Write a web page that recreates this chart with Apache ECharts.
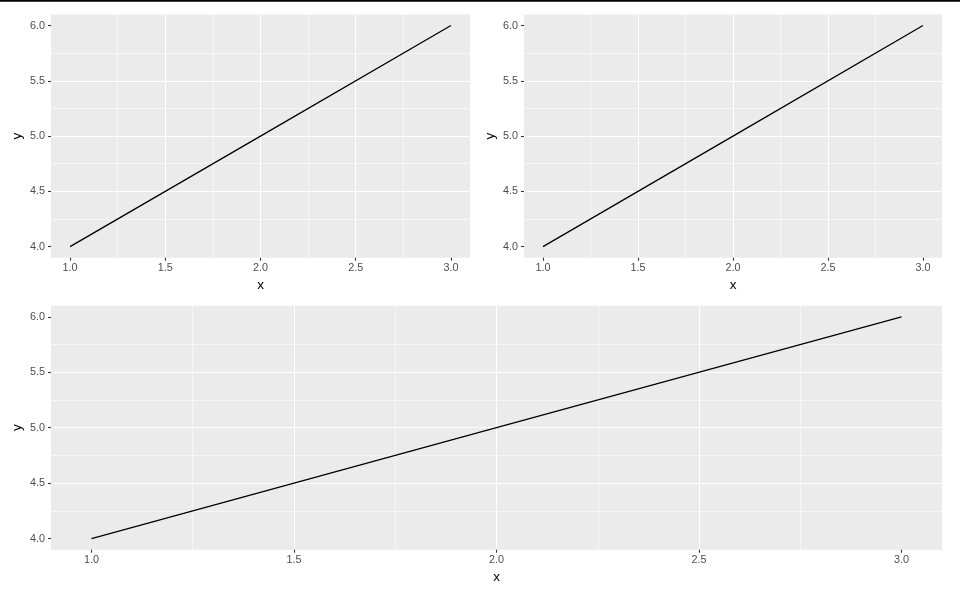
<!DOCTYPE html>
<html>
<head>
<meta charset="utf-8">
<script src="https://cdn.jsdelivr.net/npm/echarts@6/dist/echarts.min.js"></script>
<style>html,body{margin:0;padding:0;background:#fff}#c{width:960px;height:598px}</style>
</head>
<body>
<div id="c"></div>
<script>
const xValues = [1, 2, 3];
const yValues = [4, 5, 6];
const xTicks = [1.0, 1.5, 2.0, 2.5, 3.0];
const yTicks = [4.0, 4.5, 5.0, 5.5, 6.0];

const chart = echarts.init(document.getElementById('c'), null, {renderer: 'canvas'});
const FONT = 'Liberation Sans, Arial, sans-serif';
const grids = [
  {left: 51, top: 14.5, width: 419, height: 243.2},
  {left: 524, top: 14.5, width: 418, height: 243.2},
  {left: 51, top: 305.7, width: 891, height: 244}
];
function axisCommon(ticks, min, max) {
  return {
    type: 'value', min: min, max: max,
    axisLine: {show: false},
    axisTick: {show: true, length: 3, lineStyle: {color: '#333333', width: 1.1}, customValues: ticks},
    axisLabel: {color: '#4D4D4D', fontSize: 10.8, fontFamily: FONT, customValues: ticks,
      formatter: v => Number(v).toFixed(1)},
    splitLine: {show: true, lineStyle: {color: '#FFFFFF', width: 1.1}, showMinLine: false, showMaxLine: false},
    minorTick: {show: false, splitNumber: 2},
    minorSplitLine: {show: true, lineStyle: {color: '#FFFFFF', width: 0.55}},
    nameLocation: 'middle',
    nameMoveOverlap: false,
    nameTextStyle: {color: '#000000', fontSize: 13.5, fontFamily: FONT}
  };
}
const xAxes = [], yAxes = [], series = [];
grids.forEach((g, i) => {
  xAxes.push(Object.assign(axisCommon(xTicks, 0.9, 3.1), {gridIndex: i, name: 'x', nameGap: 20.5,
    axisLabel: Object.assign(axisCommon(xTicks).axisLabel, {margin: 5})}));
  yAxes.push(Object.assign(axisCommon(yTicks, 3.9, 6.1), {gridIndex: i, name: 'y', nameGap: 27,
    axisLabel: Object.assign(axisCommon(yTicks).axisLabel, {margin: 6})}));
  series.push({
    type: 'line', xAxisIndex: i, yAxisIndex: i,
    data: xValues.map((x, k) => [x, yValues[k]]),
    showSymbol: false, symbol: 'none',
    lineStyle: {color: '#000000', width: 1.3},
    animation: false
  });
});
chart.setOption({
  animation: false,
  grid: grids.map(g => Object.assign({show: true, backgroundColor: '#EBEBEB', borderWidth: 0,
    containLabel: false, outerBoundsMode: 'none'}, g)),
  xAxis: xAxes,
  yAxis: yAxes,
  series: series,
  graphic: [{type: 'rect', left: 0, top: 0, shape: {x: 0, y: 0, width: 960, height: 1.7}, style: {fill: '#000000'}}]
});
</script>
</body>
</html>
